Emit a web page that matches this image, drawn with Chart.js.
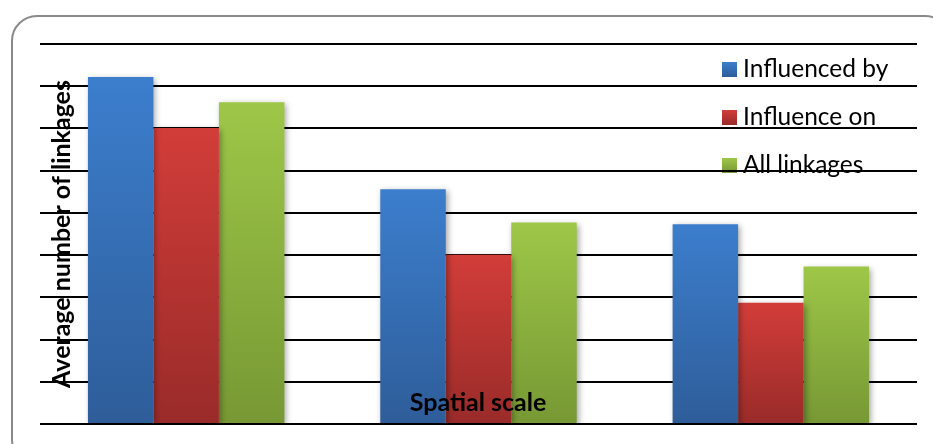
<!DOCTYPE html>
<html>
<head>
<meta charset="utf-8">
<script src="https://cdn.jsdelivr.net/npm/chart.js@4"></script>
<style>
    body { margin: 0; background: #fff; }
    #wrap { position: relative; width: 933px; height: 444px; overflow: hidden; }
    #frame {
        position: absolute; left: 11px; top: 15px; width: 940px; height: 450px;
        border: 2px solid #8a8a8a; border-radius: 26px; box-sizing: border-box;
    }
    #chart { position: absolute; left: 0; top: 0; }
</style>
</head>
<body>
<div id="wrap">
    <div id="frame"></div>
    <canvas id="chart" width="933" height="444"></canvas>
</div>
<script>
const categories = ['', '', ''];
const seriesNames = ['Influenced by', 'Influence on', 'All linkages'];
const influencedBy = [8.22, 5.56, 4.73];
const influenceOn = [7.01, 4.01, 2.87];
const allLinkages = [7.62, 4.77, 3.73];
const yTitle = 'Average number of linkages';
const xTitle = 'Spatial scale';

// top / bottom colour of each bar gradient
const shades = [
    ['#3c7ecd', '#2e5d99'],
    ['#d23d39', '#992b29'],
    ['#9ec748', '#779834']
];

const barFill = (idx) => (ctx) => {
    const chart = ctx.chart;
    const area = chart.chartArea;
    if (!area || ctx.raw === undefined) return shades[idx][0];
    const top = chart.scales.y.getPixelForValue(ctx.raw);
    const g = chart.ctx.createLinearGradient(0, top, 0, area.bottom);
    g.addColorStop(0, shades[idx][0]);
    g.addColorStop(1, shades[idx][1]);
    return g;
};

const makeSet = (label, data, idx) => ({
    label: label,
    data: data,
    backgroundColor: barFill(idx),
    borderWidth: 0,
    categoryPercentage: 0.672,
    barPercentage: 1.0
});

// soft shadow under the bars
const barShadow = {
    id: 'barShadow',
    beforeDatasetsDraw(chart) {
        const c = chart.ctx;
        c.save();
        c.shadowColor = 'rgba(0,0,0,0.35)';
        c.shadowBlur = 6;
        c.shadowOffsetX = 2;
        c.shadowOffsetY = 2;
    },
    afterDatasetsDraw(chart) {
        chart.ctx.restore();
    }
};

// legend sits under the gridlines, inside the plot
const sideLegend = {
    id: 'sideLegend',
    beforeDraw(chart) {
        const c = chart.ctx;
        c.save();
        c.font = '24.5px Lato';
        c.textBaseline = 'alphabetic';
        seriesNames.forEach((name, i) => {
            const base = 77 + i * 48;
            const g = c.createLinearGradient(0, base - 15, 0, base);
            g.addColorStop(0, shades[i][0]);
            g.addColorStop(1, shades[i][1]);
            c.fillStyle = g;
            c.fillRect(722, base - 15, 15, 15);
            c.fillStyle = '#000';
            c.fillText(name, 743, base);
        });
        c.restore();
    }
};

// axis titles drawn over the plot area
const axisTitles = {
    id: 'axisTitles',
    afterDraw(chart) {
        const c = chart.ctx;
        const area = chart.chartArea;
        c.save();
        c.font = 'bold 25px Lato';
        c.fillStyle = '#000';
        c.textAlign = 'center';
        c.textBaseline = 'middle';
        c.fillText(xTitle, 478, 403);
        c.translate(62, (area.top + area.bottom) / 2);
        c.rotate(-Math.PI / 2);
        c.fillText(yTitle, 0, 0);
        c.restore();
    }
};

new Chart(document.getElementById('chart').getContext('2d'), {
    type: 'bar',
    data: {
        labels: categories,
        datasets: [
            makeSet(seriesNames[0], influencedBy, 0),
            makeSet(seriesNames[1], influenceOn, 1),
            makeSet(seriesNames[2], allLinkages, 2)
        ]
    },
    options: {
        responsive: false,
        animation: false,
        layout: { padding: { left: 40, right: 16, top: 44, bottom: 12 } },
        plugins: {
            legend: { display: false },
            tooltip: { enabled: false }
        },
        scales: {
            x: {
                grid: { display: false },
                border: { display: false },
                ticks: { display: false }
            },
            y: {
                min: 0,
                max: 9,
                ticks: { display: false, stepSize: 1 },
                grid: { color: '#000', lineWidth: 2, drawTicks: false },
                border: { display: false }
            }
        }
    },
    plugins: [barShadow, sideLegend, axisTitles]
});
</script>
</body>
</html>
